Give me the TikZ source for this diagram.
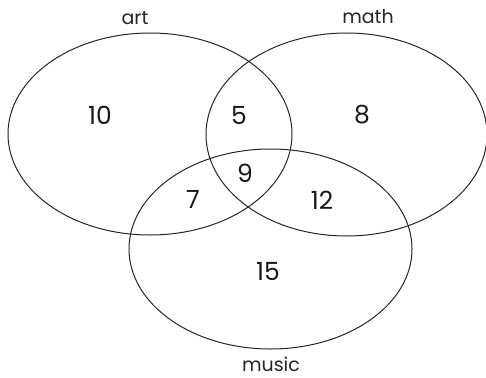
\documentclass[tikz,border=0pt]{standalone}
\usepackage{fontspec}
\setmainfont{Poppins}
\begin{document}
\begin{tikzpicture}[x=1pt,y=-1pt,
  setline/.style={draw=black!85, line width=1pt},
  setlabel/.style={font=\fontsize{19}{21}\selectfont, text=black!85},
  count/.style={font=\fontsize{25}{27}\selectfont, text=black!90}]
\useasboundingbox (0,0) rectangle (486,377);
\draw[setline] (150,134) ellipse [x radius=142, y radius=101];
\draw[setline] (346.5,134.5) ellipse [x radius=140.5, y radius=101.5];
\draw[setline] (270.5,249) ellipse [x radius=141.5, y radius=100];
\node[setlabel] (art) at (135,18) {art};
\node[setlabel] (math) at (368,17) {math};
\node[setlabel] (music) at (271,364) {music};
\node[count] (a) at (100,115) {10};
\node[count] (am) at (239,115) {5};
\node[count] (m) at (362,115) {8};
\node[count] (amu) at (245,173) {9};
\node[count] (au) at (193,199) {7};
\node[count] (mu) at (322,200) {12};
\node[count] (u) at (268,271) {15};
\end{tikzpicture}
\end{document}
